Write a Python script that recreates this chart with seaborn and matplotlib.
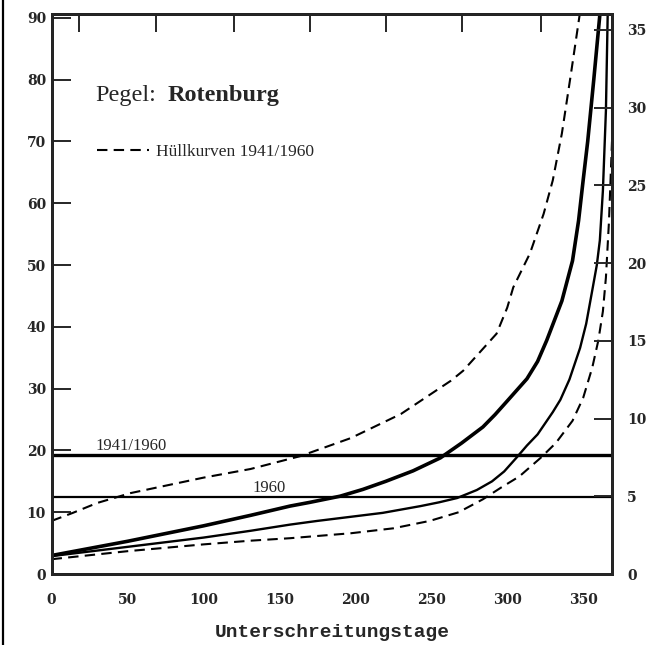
import matplotlib
matplotlib.use("Agg")
import matplotlib.pyplot as plt
import seaborn as sns
from matplotlib.lines import Line2D

# mean duration curve 1941/1960 (thick line)
mean_days = [0, 50, 100, 131, 157, 170, 190, 205, 220, 238, 256, 270, 284, 292, 300, 313,
             320, 326, 336, 343, 347, 350, 353, 357, 361, 363]
mean_level = [3.0, 5.3, 7.8, 9.5, 11.0, 11.6, 12.6, 13.7, 15.0, 16.7, 18.8, 21.2, 23.8, 25.8, 28.0, 31.6,
              34.4, 37.8, 44.2, 50.7, 57.2, 63.7, 70.0, 80.0, 90.5, 95.0]

# duration curve 1960 (thin line)
y1960_days = [0, 50, 100, 131, 157, 175, 218, 243, 255, 267, 280, 290, 298, 306, 313, 320,
              330, 335, 341, 348, 352, 356, 359, 361, 363, 365, 366.5]
y1960_level = [2.9, 4.4, 5.9, 7.0, 8.0, 8.6, 9.9, 11.0, 11.6, 12.3, 13.6, 15.0, 16.6, 18.8, 20.8, 22.6,
               26.2, 28.2, 31.5, 36.6, 40.5, 45.9, 50.0, 54.0, 62.0, 75.0, 95.0]

# envelope curves 1941/1960 (dashed)
low_days = [0, 50, 100, 131, 157, 197, 225, 249, 268, 284, 296, 308, 322, 332, 343, 350,
            356, 360, 363, 365, 367, 369]
low_level = [2.4, 3.7, 4.8, 5.4, 5.8, 6.6, 7.4, 8.6, 10.0, 12.1, 14.0, 15.8, 18.8, 21.2, 24.8, 28.5,
             33.4, 37.8, 42.5, 48.0, 57.0, 70.0]

up_days = [0, 14, 30, 52, 100, 131, 164, 197, 230, 263, 271, 293, 300, 304, 315, 324,
           330, 336, 342, 348, 350]
up_level = [8.6, 9.9, 11.5, 13.1, 15.6, 17.0, 19.1, 22.0, 25.9, 31.3, 32.9, 38.9, 43.1, 46.4, 51.9, 58.3,
            63.7, 71.3, 81.0, 91.0, 95.0]

# mean levels (horizontal lines)
mean_1941_1960 = 19.3
mean_1960 = 12.5

left_ticks = [0, 10, 20, 30, 40, 50, 60, 70, 80, 90]
right_ticks = [0, 5, 10, 15, 20, 25, 30, 35]
x_ticks = [0, 50, 100, 150, 200, 250, 300, 350]
top_ticks = [18, 69, 120, 170, 220, 270, 322]

sns.set_style("white")
plt.rcParams['font.family'] = ['DejaVu Serif']
plt.rcParams['font.weight'] = 'bold'

fig = plt.figure(figsize=(6.57, 6.45), dpi=100)
ax = fig.add_axes([0.0785, 0.110, 0.853, 0.868])

sns.lineplot(x=mean_days, y=mean_level, ax=ax, color='black', lw=2.6)
sns.lineplot(x=y1960_days, y=y1960_level, ax=ax, color='black', lw=1.7)
sns.lineplot(x=low_days, y=low_level, ax=ax, color='black', lw=1.5, linestyle=(0, (5, 3)))
sns.lineplot(x=up_days, y=up_level, ax=ax, color='black', lw=1.5, linestyle=(0, (5, 3)))
env_handle = ax.lines[-1]

ax.axhline(mean_1941_1960, color='black', lw=2.4)
ax.axhline(mean_1960, color='black', lw=1.6)

ax.set_xlim(0, 369)
ax.set_ylim(0, 90.6)
ax.set_xticks(x_ticks)
ax.set_yticks(left_ticks)
ax.tick_params(axis='both', direction='in', length=14, width=1.4, labelsize=10)
ax.tick_params(axis='x', pad=14)
ax.tick_params(axis='y', pad=4)
for s in ax.spines.values():
    s.set_linewidth(2.0)
    s.set_color('black')

top = ax.secondary_xaxis('top')
top.set_xticks(top_ticks, labels=[])
top.tick_params(direction='in', length=13, width=1.4)
top.spines['top'].set_linewidth(2.0)

ax2 = ax.twinx()
ax2.set_ylim(0, 36.0)
ax2.set_yticks(right_ticks)
ax2.tick_params(axis='y', direction='in', length=13, width=1.4, labelsize=10, pad=11)
for s in ax2.spines.values():
    s.set_linewidth(2.0)

ax.set_xlabel("Unterschreitungstage", family='Liberation Mono', fontsize=14,
              fontweight='bold', labelpad=12)
ax.set_ylabel("")

ax.text(29, 76.5, "Pegel:", family='Liberation Serif', fontsize=17.5, fontweight='normal',
        ha='left', va='baseline')
ax.text(76.5, 76.5, "Rotenburg", family='Liberation Serif', fontsize=17.5, fontweight='bold',
        ha='left', va='baseline')

ax.legend(handles=[env_handle], labels=["Hüllkurven 1941/1960"], loc='center left',
          bbox_to_anchor=(0.081, 0.7536), frameon=False, borderpad=0, borderaxespad=0,
          handlelength=3.0, handletextpad=0.4,
          prop={'family': 'Liberation Serif', 'size': 12.5, 'weight': 'normal'})

ax.text(28.6, 20.1, "1941/1960", family='Liberation Serif', fontsize=12, fontweight='normal',
        ha='left', va='baseline')
ax.text(132.5, 13.3, "1960", family='Liberation Serif', fontsize=12, fontweight='normal',
        ha='left', va='baseline')

# page border of the scan
fig.add_artist(Line2D([0.004, 0.004], [0, 1], transform=fig.transFigure, color='black', lw=1.6))

fig.savefig("out.png", dpi=100)
